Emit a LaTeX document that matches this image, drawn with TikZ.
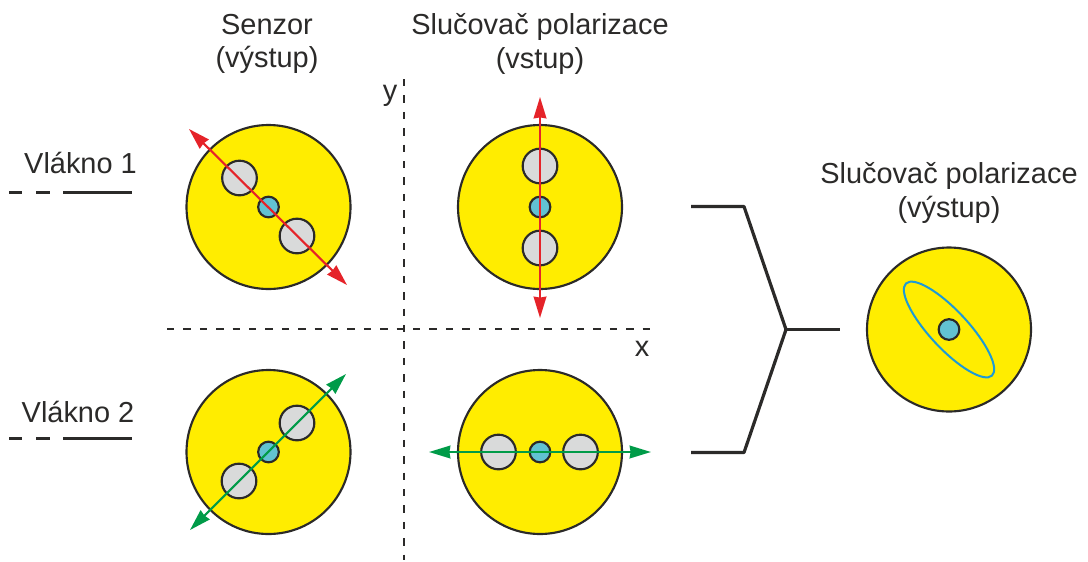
\documentclass[tikz,border=0pt]{standalone}
\usepackage{fontspec}
\setmainfont{Liberation Sans}
\usetikzlibrary{arrows.meta}
\definecolor{fibreyellow}{HTML}{FFED00}
\definecolor{stressgrey}{HTML}{D9DADA}
\definecolor{corecyan}{HTML}{62C2D2}
\definecolor{linedark}{HTML}{2B2A29}
\definecolor{axisred}{HTML}{E52329}
\definecolor{axisgreen}{HTML}{009B48}
\definecolor{modeblue}{HTML}{1D9AD6}
\tikzset{
	fibre/.style={circle,draw=linedark,line width=1.6pt,fill=fibreyellow,inner sep=0pt,minimum size=123pt},
	stress/.style={circle,draw=linedark,line width=1.6pt,fill=stressgrey,inner sep=0pt,minimum size=26pt},
	core/.style={circle,draw=linedark,line width=1.6pt,fill=corecyan,inner sep=0pt,minimum size=15.5pt},
	axisline/.style={line width=1.6pt,{Stealth[length=16pt,width=9.5pt,inset=.7pt]}-{Stealth[length=16pt,width=9.5pt,inset=.7pt]}},
	label/.style={text=linedark,align=center,font=\fontsize{21.7}{25}\selectfont,inner sep=0pt},
	guide/.style={linedark,line width=1.3pt,dash pattern=on 5.5pt off 6.8pt},
	legend/.style={linedark,line width=2.1pt,dash pattern=on 9.75pt off 10.5pt on 10.5pt off 9.75pt on 51.75pt off 100pt},
	bracket/.style={linedark,line width=2.4pt,line join=round}
}
\begin{document}
\begin{tikzpicture}[x=.75pt,y=-.75pt]
	\useasboundingbox (0,0) rectangle (1088,561);
	% axes
	\coordinate (yt) at (404,79);
	\coordinate (yb) at (404,560);
	\coordinate (xl) at (167,329);
	\coordinate (xr) at (651,329);
	\draw[guide] (yt) -- (yb);
	\draw[guide] (xl) -- (xr);
	\node[label] (ylab) at (390,96) {y};
	\node[label] (xlab) at (642,349) {x};
	% titles
	\node[label] (tsens) at (267,44) {Senzor\\(výstup)};
	\node[label] (tin) at (540,44) {Slučovač polarizace\\(vstup)};
	\node[label] (tout) at (949,193) {Slučovač polarizace\\(výstup)};
	\node[label] (tf1) at (80.5,163) {Vlákno 1};
	\node[label] (tf2) at (78,412) {Vlákno 2};
	% legend lines
	\coordinate (la) at (9,192.5);
	\coordinate (lb) at (132,192.5);
	\coordinate (lc) at (9,438.5);
	\coordinate (ld) at (132,438.5);
	\draw[legend] (la) -- (lb);
	\draw[legend] (lc) -- (ld);
	% fibre 1, sensor
	\node[fibre] (fa) at (268.5,207) {};
	\node[stress] (fa1) at (239.5,178) {};
	\node[stress] (fa2) at (297,236) {};
	\node[core] (fa0) at (268.5,207) {};
	\coordinate (faa) at (189,129);
	\coordinate (fab) at (347,285);
	\draw[axisline,axisred] (faa) -- (fab);
	% fibre 1, combiner
	\node[fibre] (fb) at (540,207) {};
	\node[stress] (fb1) at (540,166) {};
	\node[stress] (fb2) at (540,248) {};
	\node[core] (fb0) at (540,207) {};
	\coordinate (fba) at (540,97);
	\coordinate (fbb) at (540,318);
	\draw[axisline,axisred] (fba) -- (fbb);
	% fibre 2, sensor
	\node[fibre] (fc) at (268.5,452) {};
	\node[stress] (fc1) at (297,423) {};
	\node[stress] (fc2) at (239,481) {};
	\node[core] (fc0) at (268.5,452) {};
	\coordinate (fca) at (346,374);
	\coordinate (fcb) at (190,530);
	\draw[axisline,axisgreen] (fca) -- (fcb);
	% fibre 2, combiner
	\node[fibre] (fd) at (540,452) {};
	\node[stress] (fd1) at (498.5,452) {};
	\node[stress] (fd2) at (580.5,452) {};
	\node[core] (fd0) at (540,452) {};
	\coordinate (fda) at (429,452);
	\coordinate (fdb) at (651,452);
	\draw[axisline,axisgreen] (fda) -- (fdb);
	% bracket
	\coordinate (ba) at (691,206.5);
	\coordinate (bb) at (744,206.5);
	\coordinate (bc) at (786,329.5);
	\coordinate (bd) at (744,452.5);
	\coordinate (be) at (691,452.5);
	\coordinate (bf) at (840,329.5);
	\draw[bracket] (ba) -- (bb) -- (bc) -- (bd) -- (be);
	\draw[bracket] (bc) -- (bf);
	% combiner output
	\node[fibre] (fe) at (949,329.5) {};
	\draw[modeblue,line width=1.5pt,rotate around={-47:(fe)}] (fe) ellipse (63 and 19);
	\node[core] (fe0) at (fe) {};
\end{tikzpicture}
\end{document}
